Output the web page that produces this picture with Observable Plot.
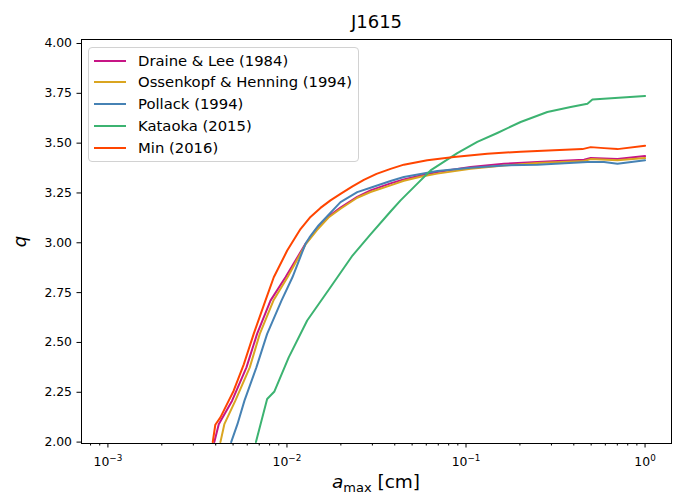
<!DOCTYPE html>
<html>
<head>
<meta charset="utf-8">
<script src="https://cdn.jsdelivr.net/npm/d3@7"></script>
<script src="https://cdn.jsdelivr.net/npm/@observablehq/plot@0.6"></script>
<style>
  html, body { margin: 0; padding: 0; background: #fff; }
  #chart { position: relative; width: 688px; height: 493px; font-family: "DejaVu Sans", sans-serif; }
  .legend { position: absolute; left: 88px; top: 47px; width: 271px; height: 115px; box-sizing: border-box;
            border: 1px solid #d2d2d2; border-radius: 4px; background: rgba(255,255,255,0.85); }
  .legend .row { position: absolute; left: 0; height: 22px; width: 100%; font-size: 14.8px; color: #000; white-space: nowrap; }
  .legend .swatch { position: absolute; left: 5px; top: 10px; width: 32px; height: 2px; }
  .legend .label { position: absolute; left: 49px; top: 2px; line-height: 18px; }
</style>
</head>
<body>
<div id="chart"></div>
<script>
// Power-law index q of the grain size distribution versus maximum grain size, J1615
const title = "J1615";
const seriesNames = ["Draine & Lee (1984)", "Ossenkopf & Henning (1994)", "Pollack (1994)", "Kataoka (2015)", "Min (2016)"];
const seriesColors = ["mediumvioletred", "goldenrod", "steelblue", "mediumseagreen", "orangered"];

// a_max [cm] and q for each opacity model
const draineA = [0.00393, 0.00416, 0.00494, 0.00594, 0.00681, 0.00809, 0.00981, 0.01269, 0.01462, 0.01706, 0.01991, 0.02469, 0.02929, 0.03789, 0.04496, 0.05574, 0.06914, 0.1061, 0.1628, 0.2503, 0.456, 0.497, 0.701, 1.0];
const draineQ = [2.00, 2.090, 2.208, 2.375, 2.543, 2.710, 2.827, 2.995, 3.069, 3.132, 3.177, 3.230, 3.263, 3.298, 3.318, 3.338, 3.355, 3.380, 3.397, 3.405, 3.417, 3.425, 3.420, 3.435];

const ossA = [0.00425, 0.00447, 0.00515, 0.00620, 0.00705, 0.00840, 0.01007, 0.01277, 0.01471, 0.01706, 0.01991, 0.02469, 0.02929, 0.03789, 0.04496, 0.05574, 0.06914, 0.1061, 0.1628, 0.2503, 0.456, 0.497, 0.701, 1.0];
const ossQ = [2.00, 2.090, 2.208, 2.375, 2.543, 2.710, 2.827, 2.995, 3.064, 3.127, 3.171, 3.226, 3.255, 3.288, 3.311, 3.331, 3.347, 3.372, 3.388, 3.400, 3.410, 3.420, 3.414, 3.425];

const pollackA = [0.00488, 0.00529, 0.00579, 0.00675, 0.00775, 0.00932, 0.01073, 0.01269, 0.01336, 0.0150, 0.01991, 0.02469, 0.02929, 0.03789, 0.04496, 0.06914, 0.1061, 0.1628, 0.2503, 0.4765, 0.590, 0.701, 1.0];
const pollackQ = [2.00, 2.090, 2.208, 2.375, 2.543, 2.710, 2.827, 2.995, 3.027, 3.087, 3.204, 3.254, 3.276, 3.310, 3.330, 3.360, 3.377, 3.388, 3.392, 3.405, 3.405, 3.397, 3.414];

const kataokaA = [0.00671, 0.00775, 0.00851, 0.01023, 0.01297, 0.01750, 0.02323, 0.02929, 0.03789, 0.04310, 0.05229, 0.06339, 0.08941, 0.1156, 0.1496, 0.2019, 0.2846, 0.3842, 0.4765, 0.5082, 1.0];
const kataokaQ = [2.00, 2.216, 2.254, 2.425, 2.610, 2.777, 2.936, 3.042, 3.157, 3.213, 3.288, 3.363, 3.450, 3.506, 3.551, 3.606, 3.656, 3.681, 3.698, 3.719, 3.737];

const minA = [0.00385, 0.00398, 0.00425, 0.00473, 0.00504, 0.00574, 0.00652, 0.00758, 0.00844, 0.01003, 0.01190, 0.01353, 0.01539, 0.01750, 0.01991, 0.02323, 0.02688, 0.03164, 0.03789, 0.04496, 0.06076, 0.08558, 0.1315, 0.2019, 0.3099, 0.4467, 0.497, 0.590, 0.701, 1.0];
const minQ = [2.00, 2.087, 2.124, 2.208, 2.258, 2.390, 2.543, 2.710, 2.827, 2.961, 3.069, 3.130, 3.175, 3.213, 3.245, 3.283, 3.316, 3.346, 3.371, 3.392, 3.414, 3.430, 3.447, 3.457, 3.464, 3.470, 3.480, 3.475, 3.470, 3.487];

// tick values
const yTicks = [2.00, 2.25, 2.50, 2.75, 3.00, 3.25, 3.50, 3.75, 4.00];
const xMajor = [1e-3, 1e-2, 1e-1, 1];
const xDomain = [7.12e-4, 1.405];
const xMinor = [];
for (let k = -4; k <= 0; k++) for (let m = 2; m <= 9; m++) {
  const v = m * Math.pow(10, k);
  if (v >= xDomain[0] && v <= xDomain[1]) xMinor.push(v);
}

const series = [[draineA, draineQ], [ossA, ossQ], [pollackA, pollackQ], [kataokaA, kataokaQ], [minA, minQ]];
const rows = [];
series.forEach(([A, Q], i) => A.forEach((a, j) => rows.push({model: seriesNames[i], a, q: Q[j]})));

const supMinus = s => s.replace("-", "\u2212");

const plot = Plot.plot({
  width: 688,
  height: 493,
  marginLeft: 81,
  marginRight: 17,
  marginTop: 39,
  marginBottom: 50,
  style: {fontFamily: "DejaVu Sans", fontSize: "12.4px", color: "#000", background: "#fff", overflow: "visible"},
  x: {type: "log", domain: xDomain},
  y: {domain: [1.993, 4.02]},
  color: {domain: seriesNames, range: seriesColors},
  marks: [
    Plot.axisY(yTicks, {anchor: "left", tickSize: 4.5, tickPadding: 5, tickFormat: d3.format(".2f"), label: null}),
    Plot.axisX(xMinor, {anchor: "bottom", tickSize: 2.5, tickFormat: () => "", label: null}),
    Plot.axisX(xMajor, {anchor: "bottom", tickSize: 4.5, tickPadding: 9, label: null,
      tickFormat: d => "10" + supMinus(String(Math.round(Math.log10(d))))}),
    Plot.line(rows, {x: "a", y: "q", z: "model", stroke: "model", strokeWidth: 2}),
    Plot.frame({stroke: "#000", strokeWidth: 1}),
    Plot.text([title], {frameAnchor: "top", dy: -17, lineAnchor: "middle", textAnchor: "middle", fontSize: 18}),
    Plot.text(["q"], {frameAnchor: "left", dx: -61, rotate: -90, textAnchor: "middle", lineAnchor: "middle", fontSize: 18, fontStyle: "italic"})
  ]
});

const svg = d3.select(plot);

// exponent of the decade labels set as a superscript
svg.selectAll('g[aria-label="x-axis tick label"] text').each(function () {
  const t = d3.select(this);
  const s = t.text();
  if (!s) return;
  t.text(null);
  t.append("tspan").text(s.slice(0, 2));
  t.append("tspan").attr("font-size", "8.8px").attr("dy", "-5").text(s.slice(2));
});

// x axis label with subscript
const xr = plot.scale("x").range;
const xl = svg.append("text")
  .attr("x", (xr[0] + xr[1]) / 2)
  .attr("y", 488)
  .attr("text-anchor", "middle")
  .attr("font-size", "18.5px")
  .attr("fill", "#000");
xl.append("tspan").attr("font-style", "italic").text("a");
xl.append("tspan").attr("font-size", "13px").attr("dy", "3.5").text("max");
xl.append("tspan").attr("dy", "-3.5").text(" [cm]");

const chart = document.getElementById("chart");
chart.appendChild(plot);

// legend box inside the axes, upper left
const legend = d3.select(chart).append("div").attr("class", "legend");
seriesNames.forEach((name, i) => {
  const row = legend.append("div").attr("class", "row").style("top", (1.5 + i * 21.8) + "px");
  row.append("div").attr("class", "swatch").style("background", seriesColors[i]);
  row.append("div").attr("class", "label").text(name);
});
</script>
</body>
</html>
